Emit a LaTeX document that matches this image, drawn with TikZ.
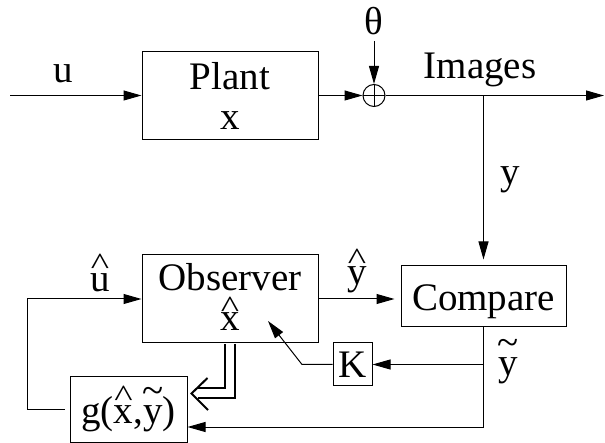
\documentclass[tikz,border=0pt]{standalone}
\usepackage{fontspec}
\setmainfont{Liberation Serif}
\usetikzlibrary{arrows.meta,calc}
\newcommand{\myhat}[2]{\ooalign{#2\cr\hidewidth\raisebox{#1}{\scalebox{1}[0.8]{\textasciicircum}}\hidewidth\cr}}
\newcommand{\mytilde}[2]{\ooalign{#2\cr\hidewidth\raisebox{#1}{\textasciitilde}\hidewidth\cr}}
\begin{document}
\begin{tikzpicture}[x=1pt,y=-1pt,line width=1pt,
  every node/.style={font=\fontsize{39}{40}\selectfont},
  blk/.style={draw,rectangle,inner sep=0pt,align=center},
  lbl/.style={inner sep=0pt,anchor=base},
  arr/.style={-{Triangle[length=18pt,width=10pt]}},
  dbl/.style={double,double distance=8pt,line width=2pt}]
\useasboundingbox (0,0) rectangle (605,443);
% blocks
\node[blk,minimum width=176pt,minimum height=88pt] (plant) at (230,95.5) {Plant\\x};
\node[blk,minimum width=176pt,minimum height=88pt,text depth=5pt] (obs) at (230,299) {Observer\\\myhat{0.32em}{x}};
\node[blk,minimum width=165pt,minimum height=61pt,text height=29pt,text depth=0pt] (cmp) at (483.5,296.5) {Compare};
\node[blk,minimum width=39pt,minimum height=43pt,text height=26pt,text depth=0pt] (K) at (352.5,364.5) {K};
\node[blk,minimum width=117pt,minimum height=65pt,text height=27pt,text depth=0pt] (g) at (128.5,409.5) {g(\myhat{0.43em}{x},\mytilde{0.49em}{y})};
\node[circle,draw,minimum size=22pt,inner sep=0pt,
  path picture={\draw (path picture bounding box.north) -- (path picture bounding box.south)
   (path picture bounding box.west) -- (path picture bounding box.east);}] (sum) at (374,95.5) {};
% labels
\node[lbl] (theta) at (374,35) {θ};
\node[lbl] (ulab) at (63,83) {u};
\node[lbl] (imgs) at (480,79) {Images};
\node[lbl] (ylab) at (510,185) {y};
\node[lbl] (uhat) at (100,292) {\myhat{0.45em}{u}};
\node[lbl] (yhat) at (357,284.5) {\myhat{0.39em}{y}};
\node[lbl] (ytil) at (508,375.5) {\mytilde{0.52em}{y}};
% coordinates
\coordinate (in) at (10,95.5);
\coordinate (out) at (604,95.5);
\coordinate (br) at (483.5,95.5);
\coordinate (fb) at (483.5,427);
\coordinate (kb) at (302,364.5);
\coordinate (ktip) at (268,321);
\coordinate (lft) at (27,0);
\coordinate (dtip) at (191.5,393.5);
% connectors
\draw[arr] (in) -- (plant.west);
\draw[arr] (plant.east) -- (sum.west);
\draw[arr,shorten <=5pt] (theta.south) -- (sum.north);
\draw[arr] (sum.east) -- (out);
\draw[arr,shorten >=6pt] (br) -- (cmp.north);
\draw[arr,shorten >=6pt] (obs.east) -- (obs.east -| cmp.west);
\draw (cmp.south) -- (fb);
\draw[arr] (fb) -- (fb -| g.east);
\draw[arr] (K.east -| cmp.south) -- (K.east);
\draw[arr] (K.west) -- (kb) -- (ktip);
\draw[arr,shorten <=5pt] (g.west) -- (g.west -| lft) |- (obs.west);
\draw[dbl] ($(obs.south)+(0,0.5)$) |- ($(dtip)+(6,0)$);
\draw[line width=2pt] ($(dtip)+(16,-15.5)$) -- (dtip) -- ($(dtip)+(16.5,16.5)$);
\end{tikzpicture}
\end{document}
